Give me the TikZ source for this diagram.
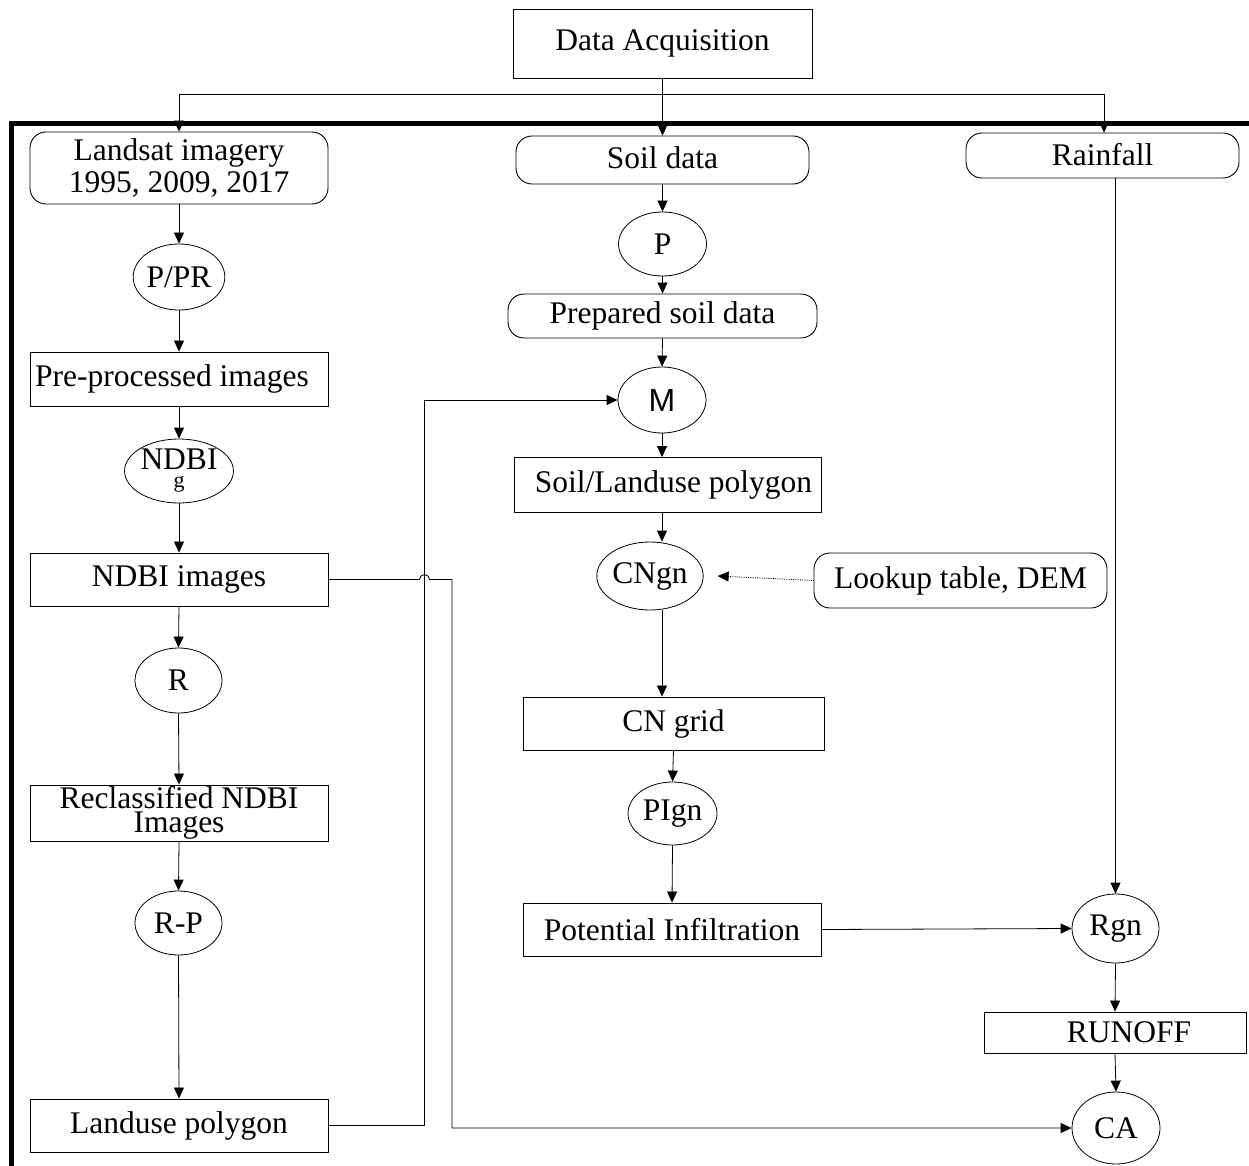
\documentclass[tikz,border=0pt]{standalone}
\usepackage{fontspec}
\setmainfont{Liberation Serif}
\newfontfamily\arialf{Liberation Sans}
\usetikzlibrary{arrows.meta,shapes.geometric}
\tikzset{
  txt/.style={font=\fontsize{31.5}{34}\selectfont},
  box/.style={txt, draw, rectangle, inner sep=0pt, line width=0.9pt, align=center},
  rbox/.style={box, rounded corners=16pt},
  ell/.style={txt, draw, ellipse, inner sep=0pt, line width=0.8pt, align=center},
  arr/.style={-{Triangle[length=11pt,width=10pt]}, line width=0.8pt},
  ln/.style={line width=0.8pt},
}
\begin{document}
\begin{tikzpicture}[x=1pt,y=1pt]
\useasboundingbox (0,0) rectangle (1249,-1166);
% thick frame
\draw[line width=5pt] (11,-1170) -- (11,-123.5) -- (1255,-123.5);

% top
\node[box, minimum width=299pt, minimum height=69pt] (da) at (662.5,-43.5) {\raisebox{2pt}{Data Acquisition}};
\node[rbox, minimum width=298pt, minimum height=72pt] (landsat) at (179,-168) {Landsat imagery\\[-2pt]1995, 2009, 2017};
\node[rbox, minimum width=293pt, minimum height=48pt] (soil) at (662.5,-160) {\raisebox{4pt}{Soil data}};
\node[rbox, minimum width=273pt, minimum height=45pt] (rain) at (1102.5,-155.5) {\raisebox{2pt}{Rainfall}};

% left column
\node[ell, minimum width=88pt, minimum height=66pt] (ppr) at (179,-277) {P/PR};
\node[box, minimum width=298pt, minimum height=54pt] (pre) at (179,-379) {\raisebox{6pt}{Pre-processed images\hspace{14pt}}};
\node[ell, minimum width=98pt, minimum height=64pt] (ndbi) at (179,-471) {\raisebox{-2pt}{NDBI}\\[-14pt]{\fontsize{22}{22}\selectfont g}};
\node[box, minimum width=298pt, minimum height=53pt] (ndbiimg) at (179,-579.5) {NDBI images};
\node[ell, minimum width=87pt, minimum height=65pt] (r) at (178.5,-680.5) {R};
\node[box, minimum width=298pt, minimum height=56pt, font=\fontsize{31.5}{24}\selectfont] (recl) at (179,-813) {Reclassified NDBI\\Images};
\node[ell, minimum width=87pt, minimum height=64pt] (rp) at (178.5,-923) {R-P};
\node[box, minimum width=298pt, minimum height=53pt] (landuse) at (179,-1125.5) {Landuse polygon};

% middle column
\node[ell, minimum width=88pt, minimum height=64pt] (p) at (662.5,-244) {P};
\node[rbox, minimum width=309pt, minimum height=44pt] (prep) at (662.5,-316) {Prepared soil data};
\node[ell, minimum width=88pt, minimum height=66pt] (m) at (662,-400) {\arialf\fontsize{32}{34}\selectfont M};
\node[box, minimum width=307pt, minimum height=55pt] (soillu) at (667.5,-485) {\hspace{12pt}Soil/Landuse polygon};
\node[ell, minimum width=88pt, minimum height=68pt] (cngn) at (650,-576) {CNgn};
\node[rbox, minimum width=293pt, minimum height=55pt] (lookup) at (960.5,-580.5) {Lookup table, DEM};
\node[box, minimum width=301pt, minimum height=53pt] (cngrid) at (673.5,-723.5) {CN grid};
\node[ell, minimum width=89pt, minimum height=63pt] (pign) at (672.5,-813.5) {PIgn};
\node[box, minimum width=298pt, minimum height=53pt] (pot) at (672,-929.5) {Potential Infiltration};

% right column
\node[ell, minimum width=87pt, minimum height=69pt] (rgn) at (1115.5,-928.5) {Rgn};
\node[box, minimum width=262pt, minimum height=41pt] (runoff) at (1115,-1032.5) {\hspace{28pt}RUNOFF};
\node[ell, minimum width=88pt, minimum height=72pt] (ca) at (1116,-1128) {CA};

% distribution from Data Acquisition
\coordinate (bl) at (179,-94);
\coordinate (br) at (1104,-94);
\draw[ln] (bl) -- (br);
\draw[arr] (da.south) -- (soil.north);
\draw[arr] (bl) -- (landsat.north);
\draw[arr] (br) -- (br |- rain.north);

% left chain
\draw[arr] (landsat.south) -- (ppr.north);
\draw[arr] (ppr.south) -- (pre.north);
\draw[arr] (pre.south) -- (ndbi.north);
\draw[arr] (ndbi.south) -- (ndbiimg.north);
\draw[arr] (ndbiimg.south) -- (r.north);
\draw[arr] (r.south) -- (recl.north);
\draw[arr] (recl.south) -- (rp.north);
\draw[arr] (rp.south) -- (landuse.north);

% cross links
\draw[arr] (landuse.east) -- ++(96,0) |- (m.west);
\draw[arr] (ndbiimg.east) -- (419.5,-579.5) arc[start angle=180, end angle=0, radius=5] -- (452,-579.5) |- (ca.west);

% middle chain
\draw[arr] (soil.south) -- (p.north);
\draw[arr] (p.south) -- (prep.north);
\draw[arr] (prep.south) -- (m.north);
\draw[arr] (m.south) -- (m.south |- soillu.north);
\draw[arr] (m.south |- soillu.south) -- (m.south |- cngn.north);
\draw[arr] (m.south |- cngn.south) -- (m.south |- cngrid.north);
\draw[arr, densely dotted] (lookup.west) -- ([xshift=14pt]cngn.east);
\draw[arr] (cngrid.south) -- (pign.north);
\draw[arr] (pign.south) -- (pot.north);
\draw[arr] (pot.east) -- (rgn.west);

% right chain
\draw[arr] (rgn.north |- rain.south) -- (rgn.north);
\draw[arr] (rgn.south) -- (runoff.north);
\draw[arr] (runoff.south) -- (ca.north);
\end{tikzpicture}
\end{document}
